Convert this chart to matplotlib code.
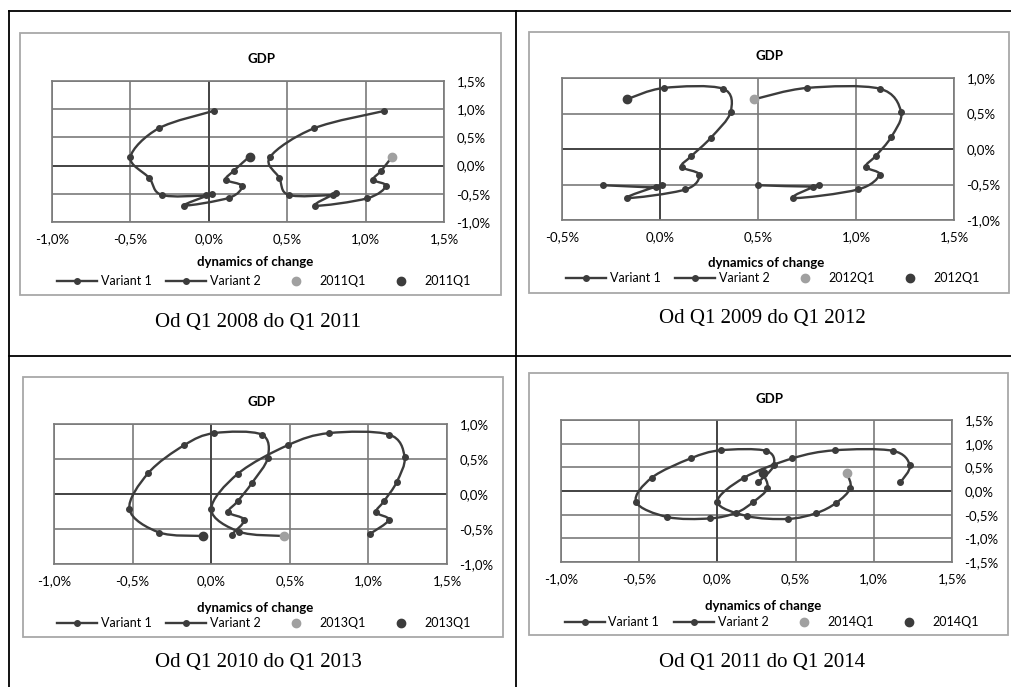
import matplotlib.pyplot as plt
import numpy as np
from matplotlib.path import Path
from matplotlib.patches import PathPatch, Rectangle
from matplotlib.lines import Line2D
from matplotlib.ticker import FuncFormatter, MultipleLocator

# Q1 2008 - Q1 2011
p1_v1_x = [0.03, -0.32, -0.50, -0.38, -0.30, -0.02, 0.02, -0.16, 0.13, 0.21, 0.11, 0.16, 0.26]
p1_v1_y = [0.97, 0.66, 0.15, -0.22, -0.52, -0.53, -0.50, -0.71, -0.57, -0.36, -0.25, -0.09, 0.16]
p1_v2_x = [1.12, 0.67, 0.39, 0.45, 0.51, 0.79, 0.81, 0.68, 1.01, 1.13, 1.05, 1.10, 1.17]
p1_v2_y = [0.97, 0.66, 0.15, -0.22, -0.52, -0.52, -0.49, -0.71, -0.58, -0.36, -0.25, -0.09, 0.16]

# Q1 2009 - Q1 2012
p2_v1_x = [-0.29, -0.02, 0.01, -0.17, 0.13, 0.20, 0.11, 0.16, 0.26, 0.36, 0.32, 0.02, -0.17]
p2_v1_y = [-0.51, -0.54, -0.50, -0.69, -0.57, -0.36, -0.25, -0.10, 0.16, 0.52, 0.85, 0.86, 0.70]
p2_v2_x = [0.50, 0.78, 0.81, 0.68, 1.01, 1.12, 1.05, 1.10, 1.18, 1.23, 1.12, 0.75, 0.48]
p2_v2_y = [-0.51, -0.53, -0.50, -0.69, -0.57, -0.36, -0.25, -0.10, 0.17, 0.52, 0.85, 0.86, 0.70]

# Q1 2010 - Q1 2013
p3_v1_x = [0.13, 0.21, 0.11, 0.17, 0.26, 0.36, 0.32, 0.02, -0.17, -0.40, -0.52, -0.33, -0.05]
p3_v1_y = [-0.58, -0.37, -0.26, -0.10, 0.16, 0.52, 0.85, 0.87, 0.70, 0.30, -0.22, -0.55, -0.60]
p3_v2_x = [1.01, 1.13, 1.05, 1.10, 1.18, 1.23, 1.13, 0.75, 0.49, 0.17, 0.00, 0.18, 0.46]
p3_v2_y = [-0.57, -0.37, -0.26, -0.10, 0.17, 0.53, 0.85, 0.87, 0.70, 0.29, -0.22, -0.54, -0.60]

# Q1 2011 - Q1 2014
p4_v1_x = [0.26, 0.36, 0.31, 0.02, -0.17, -0.42, -0.52, -0.32, -0.05, 0.12, 0.23, 0.32, 0.29]
p4_v1_y = [0.18, 0.54, 0.85, 0.86, 0.69, 0.28, -0.23, -0.55, -0.58, -0.46, -0.23, 0.06, 0.39]
p4_v2_x = [1.17, 1.23, 1.12, 0.75, 0.48, 0.17, 0.00, 0.19, 0.45, 0.63, 0.76, 0.85, 0.83]
p4_v2_y = [0.18, 0.54, 0.85, 0.86, 0.69, 0.28, -0.23, -0.53, -0.59, -0.47, -0.25, 0.06, 0.37]

end_labels = ["2011Q1", "2012Q1", "2013Q1", "2014Q1"]
captions = ["Od Q1 2008 do Q1 2011", "Od Q1 2009 do Q1 2012",
            "Od Q1 2010 do Q1 2013", "Od Q1 2011 do Q1 2014"]
x_limits = [(-1.0, 1.5), (-0.5, 1.5), (-1.0, 1.5), (-1.0, 1.5)]
y_limits = [(-1.0, 1.5), (-1.0, 1.0), (-1.0, 1.0), (-1.5, 1.5)]

W, H = 1012, 687
DARK = "#3c3c3c"
LIGHT = "#a0a0a0"
GRID = "#7a7a7a"
SANS = "Lato"

plt.rcParams["font.family"] = SANS


def fx(px):
    return px / W


def fy(py):
    return 1 - py / H


def smooth_path(x, y):
    # Catmull-Rom segments turned into cubic Bezier pieces
    pts = np.column_stack([x, y]).astype(float)
    n = len(pts)
    verts = [pts[0]]
    codes = [Path.MOVETO]
    for i in range(n - 1):
        p0 = pts[max(i - 1, 0)]
        p1 = pts[i]
        p2 = pts[i + 1]
        p3 = pts[min(i + 2, n - 1)]
        verts += [p1 + (p2 - p0) / 6, p2 - (p3 - p1) / 6, p2]
        codes += [Path.CURVE4] * 3
    return Path(verts, codes)


def pct(v, pos):
    return f"{v:.1f}%".replace(".", ",")


fig = plt.figure(figsize=(W / 100, H / 100), dpi=100)

# table rules
for xs, ys in [([9, W], [11, 11]), ([9, W], [356, 356]),
               ([9, 9], [11, H]), ([516, 516], [11, H])]:
    fig.add_artist(Line2D([fx(v) for v in xs], [fy(v) for v in ys],
                          color="black", lw=1.3))

series = [
    (p1_v1_x, p1_v1_y, p1_v2_x, p1_v2_y),
    (p2_v1_x, p2_v1_y, p2_v2_x, p2_v2_y),
    (p3_v1_x, p3_v1_y, p3_v2_x, p3_v2_y),
    (p4_v1_x, p4_v1_y, p4_v2_x, p4_v2_y),
]

# pixel layout: chart frame, plot area, title, xlabel, legend, caption
layout = [
    dict(frame=(20, 33, 501, 295), plot=(52, 81, 444, 222), title=(261, 59),
         xlab=(255, 262), leg=(264, 281), cap=(258, 322)),
    dict(frame=(529, 32, 1009, 293), plot=(562, 78, 954, 220), title=(769, 56),
         xlab=(766, 263), leg=(773, 278), cap=(762, 318)),
    dict(frame=(23, 377, 503, 637), plot=(54, 424, 447, 564), title=(262, 402),
         xlab=(255, 608), leg=(264, 623), cap=(258, 663)),
    dict(frame=(529, 373, 1008, 635), plot=(561, 420, 952, 562), title=(769, 399),
         xlab=(763, 606), leg=(772, 622), cap=(762, 663)),
]

for k in range(4):
    v1x, v1y, v2x, v2y = series[k]
    L = layout[k]

    x0, y0, x1, y1 = L["frame"]
    fig.add_artist(Rectangle((fx(x0), fy(y1)), fx(x1 - x0), (y1 - y0) / H,
                             transform=fig.transFigure, fill=False,
                             ec="#a8a8a8", lw=1.3))

    x0, y0, x1, y1 = L["plot"]
    ax = fig.add_axes([fx(x0), fy(y1), fx(x1 - x0), (y1 - y0) / H])
    ax.set_xlim(*x_limits[k])
    ax.set_ylim(*y_limits[k])
    ax.xaxis.set_major_locator(MultipleLocator(0.5))
    ax.yaxis.set_major_locator(MultipleLocator(0.5))
    ax.xaxis.set_major_formatter(FuncFormatter(pct))
    ax.yaxis.set_major_formatter(FuncFormatter(pct))
    ax.yaxis.tick_right()
    ax.tick_params(axis="both", length=0, labelsize=9.5, colors="black")
    ax.tick_params(axis="x", pad=8)
    ax.tick_params(axis="y", pad=9)
    for lab in ax.get_yticklabels():
        lab.set_horizontalalignment("left")
    ax.grid(True, color=GRID, lw=1.2)
    ax.set_axisbelow(True)
    for sp in ax.spines.values():
        sp.set_color(GRID)
        sp.set_linewidth(1.2)
    ax.axhline(0, color="#454545", lw=1.4, zorder=1)
    ax.axvline(0, color="#454545", lw=1.4, zorder=1)

    for xs, ys in [(v1x, v1y), (v2x, v2y)]:
        ax.add_patch(PathPatch(smooth_path(xs, ys), fill=False, ec=DARK,
                               lw=1.7, capstyle="round", joinstyle="round",
                               zorder=3))
        ax.plot(xs, ys, ls="none", marker="o", ms=4, color=DARK, zorder=4)

    ax.plot(v2x[-1], v2y[-1], ls="none", marker="o", ms=6, color=LIGHT, zorder=5)
    ax.plot(v1x[-1], v1y[-1], ls="none", marker="o", ms=6, color=DARK, zorder=5)

    tx, ty = L["title"]
    fig.text(fx(tx), fy(ty), "GDP", ha="center", va="center",
             fontsize=9.5, fontweight="bold")
    tx, ty = L["xlab"]
    fig.text(fx(tx), fy(ty), "dynamics of change", ha="center", va="center",
             fontsize=9.5, fontweight="bold")

    handles = [
        Line2D([], [], color=DARK, lw=1.7, marker="o", ms=4),
        Line2D([], [], color=DARK, lw=1.7, marker="o", ms=4),
        Line2D([], [], ls="none", marker="o", ms=6, color=LIGHT),
        Line2D([], [], ls="none", marker="o", ms=6, color=DARK),
    ]
    labels = ["Variant 1", "Variant 2", end_labels[k], end_labels[k]]
    tx, ty = L["leg"]
    fig.legend(handles, labels, loc="center", bbox_to_anchor=(fx(tx), fy(ty)),
               ncol=4, frameon=False, fontsize=9, handlelength=3.2,
               handletextpad=0.3, columnspacing=1.2, borderpad=0)

    tx, ty = L["cap"]
    fig.text(fx(tx), fy(ty), captions[k], ha="center", va="center",
             fontsize=15, family="Liberation Serif")

fig.savefig("out.png", dpi=100, facecolor="white")
